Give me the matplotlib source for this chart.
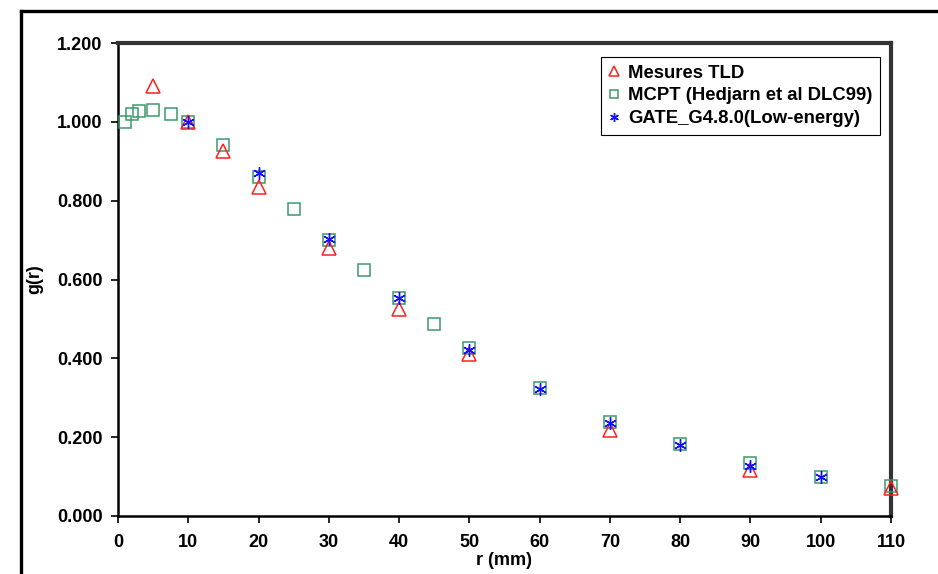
import numpy as np
import matplotlib.pyplot as plt
from matplotlib.lines import Line2D

plt.rcParams['font.family'] = ['Liberation Sans', 'DejaVu Sans']

# Mesures TLD
r_tld = [5, 10, 15, 20, 30, 40, 50, 70, 90, 110]
g_tld = [1.090, 1.000, 0.927, 0.835, 0.680, 0.524, 0.410, 0.218, 0.117, 0.071]

# MCPT (Hedjarn et al DLC99)
r_mcpt = [1, 2, 3, 5, 7.5, 10, 15, 20, 25, 30, 35, 40, 45, 50, 60, 70, 80, 90, 100, 110]
g_mcpt = [1.000, 1.020, 1.028, 1.030, 1.020, 1.000, 0.940, 0.861, 0.780, 0.700, 0.623,
          0.552, 0.486, 0.425, 0.324, 0.238, 0.182, 0.134, 0.099, 0.076]

# GATE_G4.8.0 (Low-energy)
r_gate = [10, 20, 30, 40, 50, 60, 70, 80, 90, 100]
g_gate = [1.000, 0.871, 0.702, 0.552, 0.422, 0.322, 0.237, 0.180, 0.127, 0.098]

W, H = 938, 574
fig = plt.figure(figsize=(W / 100, H / 100), dpi=100)

# outer chart frame (cut off at the right and bottom)
fig.add_artist(Line2D([21 / W, 1.0], [1 - 10.5 / H, 1 - 10.5 / H], color='black', lw=2.4))
fig.add_artist(Line2D([21 / W, 21 / W], [0.0, 1 - 10.5 / H], color='black', lw=2.4))

ax = fig.add_axes([118 / W, 1 - 516 / H, (891 - 118) / W, (516 - 43) / H])

ax.plot(r_mcpt, g_mcpt, linestyle='none', marker='s', markersize=8.5,
        markerfacecolor='none', markeredgecolor='#3a9a6a', markeredgewidth=1.1,
        label='MCPT (Hedjarn et al DLC99)', zorder=3, clip_on=False)
ax.plot(r_tld, g_tld, linestyle='none', marker='^', markersize=9.5,
        markerfacecolor='none', markeredgecolor='#ff2020', markeredgewidth=1.1,
        label='Mesures TLD', zorder=4, clip_on=False)
ax.plot(r_gate, g_gate, linestyle='none', marker=(6, 2, 0), markersize=9,
        markeredgecolor='#1010ff', markeredgewidth=1.0,
        label='GATE_G4.8.0(Low-energy)', zorder=5, clip_on=False)

ax.set_xlim(0, 110)
ax.set_ylim(0, 1.2)
ax.set_xticks(np.arange(0, 111, 10))
ax.set_yticks(np.arange(0, 1.21, 0.2))
ax.set_yticklabels(['%.3f' % v for v in np.arange(0, 1.21, 0.2)])

for s in ['left', 'bottom']:
    ax.spines[s].set_linewidth(1.8)
    ax.spines[s].set_color('black')
for s in ['top', 'right']:
    ax.spines[s].set_linewidth(3.0)
    ax.spines[s].set_color('#333333')

ax.tick_params(direction='out', length=5, width=1.2, labelsize=13, pad=6)
ax.tick_params(axis='x', pad=8)
for lbl in ax.get_xticklabels() + ax.get_yticklabels():
    lbl.set_fontweight('bold')

ax.set_xlabel('r (mm)', fontsize=13, fontweight='bold', labelpad=1)
ax.set_ylabel('g(r)', fontsize=13, fontweight='bold', labelpad=10)

handles, labels = ax.get_legend_handles_labels()
order = [1, 0, 2]
leg = ax.legend([handles[i] for i in order], [labels[i] for i in order],
                loc='upper right', bbox_to_anchor=(0.986, 0.970), borderaxespad=0,
                prop={'weight': 'bold', 'size': 13.3}, frameon=True, fancybox=False,
                framealpha=1, edgecolor='black', borderpad=0.4, labelspacing=0.32,
                handlelength=0.6, handletextpad=0.5, markerscale=0.7)
leg.get_frame().set_linewidth(0.8)

fig.savefig('out.png', dpi=100)
